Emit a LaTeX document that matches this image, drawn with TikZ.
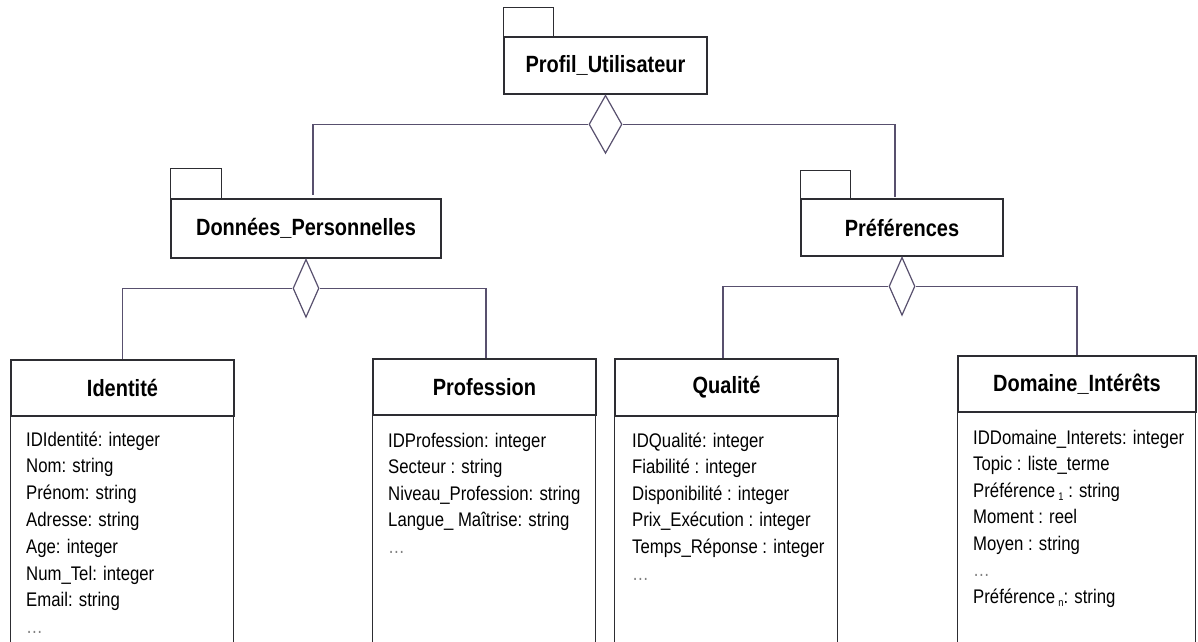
\documentclass[tikz,border=0pt]{standalone}
\usepackage{fontspec}
\setmainfont{Liberation Sans}[FakeStretch=0.85]
\usetikzlibrary{shapes.geometric}
\definecolor{linkc}{RGB}{88,80,110}
\definecolor{boxc}{RGB}{45,45,50}
\newcommand\etcdots{\textcolor{gray}{…}}
\newcommand\subidx[1]{\,\raisebox{-3pt}{\fontsize{11}{11}\selectfont #1}}
\tikzset{
  pkg/.style={draw=boxc, line width=1.4pt, fill=white, inner sep=0pt,
    font=\fontsize{23.5}{28}\selectfont\bfseries},
  classhead/.style={draw=boxc, line width=1.4pt, inner sep=0pt,
    font=\fontsize{23.5}{28}\selectfont\bfseries},
  classbody/.style={draw=boxc, line width=1.4pt},
  attr/.style={anchor=base west, inner sep=0pt, font=\fontsize{19.7}{24}\selectfont},
  link/.style={draw=linkc, line width=1.3pt},
  agg/.style={diamond, draw=linkc, line width=1.2pt, fill=white, inner sep=0pt,
    minimum width=26pt, minimum height=58pt, anchor=north},
}
\begin{document}
\begin{tikzpicture}[x=1pt,y=-1pt]
\useasboundingbox (0,0) rectangle (1198,641);
\clip (0,0) rectangle (1198,641);

% packages
\node[pkg, minimum width=203pt, minimum height=57pt] (pu) at (605.5,65.5) {Profil\_Utilisateur};
\draw[boxc, line width=1.4pt] (pu.north west) rectangle ++(50,-29);
\node[pkg, minimum width=270pt, minimum height=59pt] (dp) at (306,228.5) {Données\_Personnelles};
\draw[boxc, line width=1.4pt] (dp.north west) rectangle ++(51,-30);
\node[pkg, minimum width=202pt, minimum height=57pt] (pr) at (902,227.5) {Préférences};
\draw[boxc, line width=1.4pt] (pr.north west) rectangle ++(50,-28);

% classes
\node[classhead, minimum width=223pt, minimum height=56pt] (id) at (122.5,388) {Identité};
\draw[classbody] (id.south west) rectangle ++(223,260);
\node[classhead, minimum width=223pt, minimum height=56pt] (pf) at (484.5,387) {Profession};
\draw[classbody] (pf.south west) rectangle ++(223,260);
\node[classhead, minimum width=223pt, minimum height=57pt] (ql) at (726.5,387.5) {Qualité};
\draw[classbody] (ql.south west) rectangle ++(223,260);
\node[classhead, minimum width=238pt, minimum height=56pt] (di) at (1077,384) {Domaine\_Intérêts};
\draw[classbody] (di.south west) rectangle ++(238,260);

% aggregation diamonds
\node[agg, minimum width=33pt] (pu-agg) at (pu.south) {};
\node[agg] (dp-agg) at (dp.south) {};
\node[agg] (pr-agg) at (pr.south) {};

% connectors
\coordinate (dp-in) at (313,195);
\coordinate (pr-in) at (895,197);
\draw[link] (pu-agg.west) -| (dp-in);
\draw[link] (pu-agg.east) -| (pr-in);
\draw[link] (dp-agg.west) -| (id.north);
\draw[link] (dp-agg.east) -| ([xshift=1.5pt]pf.north);
\draw[link] (pr-agg.west) -| ([xshift=-3.5pt]ql.north);
\draw[link] (pr-agg.east) -| (di.north);

% attributes
\foreach \t [count=\i from 0] in {IDIdentité: integer, Nom: string, Prénom: string,
    Adresse: string, Age: integer, Num\_Tel: integer, Email: string, \etcdots}
  \node[attr] (id-a\i) at (26,{446+26.8*\i}) {\t};
\foreach \t [count=\i from 0] in {IDProfession: integer, Secteur : string,
    Niveau\_Profession: string, Langue\_ Maîtrise: string, \etcdots}
  \node[attr] (pf-a\i) at (388,{447+26.6*\i}) {\t};
\foreach \t [count=\i from 0] in {IDQualité: integer, Fiabilité : integer,
    Disponibilité : integer, Prix\_Exécution : integer, Temps\_Réponse : integer, \etcdots}
  \node[attr] (ql-a\i) at (632,{447+26.6*\i}) {\t};
\foreach \t [count=\i from 0] in {IDDomaine\_Interets: integer, Topic : liste\_terme,
    {Préférence\subidx{1} : string}, Moment : reel, Moyen : string, \etcdots,
    {Préférence\subidx{n}: string}}
  \node[attr] (di-a\i) at (973,{444+26.5*\i}) {\t};
\end{tikzpicture}
\end{document}
